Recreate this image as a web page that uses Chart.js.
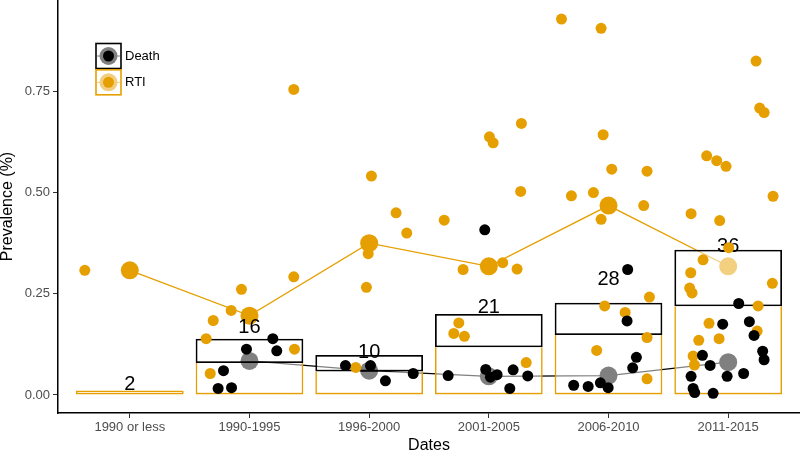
<!DOCTYPE html>
<html><head><meta charset="utf-8">
<script src="https://cdn.jsdelivr.net/npm/chart.js@4"></script>
<style>html,body{margin:0;padding:0;background:#fff}#wrap{width:800px;height:451px}</style>
</head><body><div id="wrap"><canvas id="c" width="800" height="451"></canvas></div>
<script>
const categories = ["1990 or less","1990-1995","1996-2000","2001-2005","2006-2010","2011-2015"];
const studyCounts = [2,16,10,21,28,36];
const rtiBarTop = [0.011,0.079,0.058,0.118,0.148,0.219];
const deathBarTop = [null,0.139,0.099,0.200,0.228,0.359];
const rtiMean = [0.308,0.196,0.375,0.318,0.468,0.318];
const deathMean = [null,0.084,0.060,0.046,0.048,0.081];
const yTicks = [0,0.25,0.5,0.75];

const rtiX = [0.624,
  1.933,1.847,1.697,1.638,2.376,1.672,2.370,2.370,
  3.019,3.225,3.314,2.992,2.977,2.888,
  4.005,4.036,4.272,4.266,3.627,3.785,4.116,4.236,3.749,3.707,3.796,4.312,
  4.607,4.938,4.955,5.027,5.322,4.690,4.874,5.294,4.938,5.342,4.968,5.139,5.322,4.901,5.322,
  6.233,6.263,6.300,5.820,5.904,5.982,6.375,5.690,5.929,6.004,5.790,5.687,6.369,5.678,5.698,6.250,5.840,6.242,5.754,5.924,5.707,5.718];
const rtiY = [0.308,
  0.261,0.209,0.184,0.139,0.113,0.053,0.292,0.755,
  0.541,0.450,0.400,0.349,0.266,0.068,
  0.638,0.623,0.671,0.503,0.432,0.310,0.327,0.311,0.178,0.152,0.145,0.080,
  0.929,0.906,0.643,0.558,0.553,0.492,0.500,0.468,0.434,0.242,0.220,0.204,0.142,0.110,0.040,
  0.825,0.709,0.698,0.591,0.579,0.565,0.491,0.448,0.431,0.364,0.334,0.302,0.276,0.264,0.252,0.220,0.177,0.158,0.135,0.139,0.096,0.074];
const deathX = [
  2.195,1.975,2.228,1.783,1.738,1.850,
  2.802,3.011,3.136,3.368,
  3.966,3.660,3.974,4.013,4.069,4.203,4.325,4.175,
  5.160,5.155,5.233,5.202,4.709,4.830,4.932,4.997,
  6.088,5.954,6.177,6.216,6.288,6.300,5.785,5.849,6.129,5.991,5.690,5.707,5.720,5.874];
const deathY = [
  0.139,0.113,0.109,0.060,0.016,0.018,
  0.0725,0.0725,0.035,0.053,
  0.408,0.048,0.063,0.044,0.050,0.062,0.047,0.016,
  0.310,0.183,0.093,0.067,0.024,0.021,0.030,0.018,
  0.226,0.175,0.181,0.147,0.108,0.087,0.098,0.073,0.053,0.046,0.046,0.016,0.006,0.004];

const ORANGE = '#E69F00';
const FAMILY = "'Liberation Sans', Arial, Helvetica, sans-serif";
Chart.defaults.font.family = FAMILY;

const toPts = (xs, ys) => xs.map((x, i) => ({x: x, y: ys[i]}));
const meanPts = arr => arr.map((v, i) => v == null ? null : {x: i + 1, y: v}).filter(Boolean);

const labelPlugin = {
  id: 'countLabels',
  afterDatasetDraw(chart, args) {
    if (args.index !== 3) return;
    const ctx = chart.ctx, xs = chart.scales.x, ys = chart.scales.y;
    ctx.save();
    ctx.font = '20px ' + FAMILY;
    ctx.fillStyle = '#000';
    ctx.textAlign = 'center';
    ctx.textBaseline = 'middle';
    studyCounts.forEach((n, i) => {
      ctx.fillText(String(n), xs.getPixelForValue(i + 1), ys.getPixelForValue(n / 100) - 2.5);
    });
    ctx.restore();
  }
};

const legendPlugin = {
  id: 'keyLegend',
  afterDraw(chart) {
    const ctx = chart.ctx;
    const items = [
      {label: 'Death', color: '#000000', light: '#808080', y0: 43.5},
      {label: 'RTI', color: ORANGE, light: '#F2CF80', y0: 69.8}
    ];
    items.forEach(it => {
      const x0 = 96, s = 25, cx = x0 + s / 2, cy = it.y0 + s / 2;
      ctx.save();
      ctx.strokeStyle = it.light; ctx.lineWidth = 1;
      ctx.beginPath(); ctx.moveTo(x0 + 1, cy); ctx.lineTo(x0 + s - 1, cy); ctx.stroke();
      ctx.fillStyle = it.light;
      ctx.beginPath(); ctx.arc(cx, cy, 9, 0, Math.PI * 2); ctx.fill();
      ctx.fillStyle = it.color;
      ctx.beginPath(); ctx.arc(cx, cy, 5.5, 0, Math.PI * 2); ctx.fill();
      ctx.strokeStyle = it.color; ctx.lineWidth = 1.6;
      ctx.strokeRect(x0, it.y0, s, s);
      ctx.fillStyle = '#000';
      ctx.font = '13px ' + FAMILY;
      ctx.textAlign = 'left'; ctx.textBaseline = 'middle';
      ctx.fillText(it.label, x0 + 29, cy);
      ctx.restore();
    });
  }
};

new Chart(document.getElementById('c'), {
  type: 'bar',
  data: {
    datasets: [
      {type: 'line', label: 'Death mean', data: meanPts(deathMean), order: 10,
       borderColor: '#000', backgroundColor: '#000', borderWidth: 1.3, tension: 0,
       pointRadius: 9, pointBorderWidth: 0, pointBackgroundColor: '#000', clip: false},
      {type: 'line', label: 'RTI mean', data: meanPts(rtiMean), order: 9,
       borderColor: ORANGE, backgroundColor: ORANGE, borderWidth: 1.3, tension: 0,
       pointRadius: 9, pointBorderWidth: 0, pointBackgroundColor: ORANGE, clip: false},
      {type: 'bar', label: 'RTI studies', order: 6, grouped: false,
       data: rtiBarTop.map((v, i) => ({x: i + 1, y: [0, v]})),
       backgroundColor: 'rgba(255,255,255,0.5)', borderColor: ORANGE, borderWidth: 1.6,
       borderSkipped: ctx => (deathBarTop[ctx.dataIndex] == null ? false : 'top'),
       categoryPercentage: 1, barPercentage: 0.9},
      {type: 'bar', label: 'Death studies', order: 5, grouped: false,
       data: deathBarTop.map((v, i) => v == null ? null : ({x: i + 1, y: [rtiBarTop[i], v]})).filter(Boolean),
       backgroundColor: 'rgba(255,255,255,0.5)', borderColor: '#000', borderWidth: 1.8,
       borderSkipped: false, categoryPercentage: 1, barPercentage: 0.9},
      {type: 'scatter', label: 'RTI', data: toPts(rtiX, rtiY), order: 3, showLine: false,
       pointRadius: 5.5, pointBorderWidth: 0, backgroundColor: ORANGE, pointBackgroundColor: ORANGE, clip: false},
      {type: 'scatter', label: 'Death', data: toPts(deathX, deathY), order: 2, showLine: false,
       pointRadius: 5.5, pointBorderWidth: 0, backgroundColor: '#000', pointBackgroundColor: '#000', clip: false}
    ]
  },
  options: {
    responsive: false,
    animation: false,
    layout: {padding: 0, autoPadding: false},
    plugins: {legend: {display: false}, tooltip: {enabled: false}},
    scales: {
      x: {
        type: 'linear', min: 0.4, max: 6.6, offset: false,
        afterBuildTicks: s => { s.ticks = categories.map((c, i) => ({value: i + 1})); },
        afterFit: s => { s.height = 38; s.paddingLeft = 0; s.paddingRight = 0; },
        ticks: {callback: v => categories[Math.round(v) - 1], color: '#4D4D4D',
                font: {size: 13}, padding: 2, maxRotation: 0, autoSkip: false},
        grid: {display: true, drawOnChartArea: false, offset: false, drawTicks: true,
               tickLength: 5, tickColor: '#333333', tickWidth: 1},
        border: {display: true, color: '#000', width: 1.5},
        title: {display: true, text: 'Dates', color: '#000',
                font: {size: 16, lineHeight: 1}, padding: {top: 0, bottom: -3}}
      },
      y: {
        type: 'linear', min: -0.0446, max: 0.976,
        afterBuildTicks: s => { s.ticks = yTicks.map(v => ({value: v})); },
        afterFit: s => { s.width = 58; s.paddingTop = 0; s.paddingBottom = 0; },
        ticks: {callback: v => Number(v).toFixed(2), color: '#4D4D4D', font: {size: 13}, padding: 3},
        grid: {display: true, drawOnChartArea: false, drawTicks: true,
               tickLength: 5, tickColor: '#333333', tickWidth: 1},
        border: {display: true, color: '#000', width: 1.5},
        title: {display: true, text: 'Prevalence (%)', color: '#000',
                font: {size: 16, lineHeight: 1}, padding: {top: 0, bottom: 0}}
      }
    }
  },
  plugins: [labelPlugin, legendPlugin]
});
</script>
</body></html>
